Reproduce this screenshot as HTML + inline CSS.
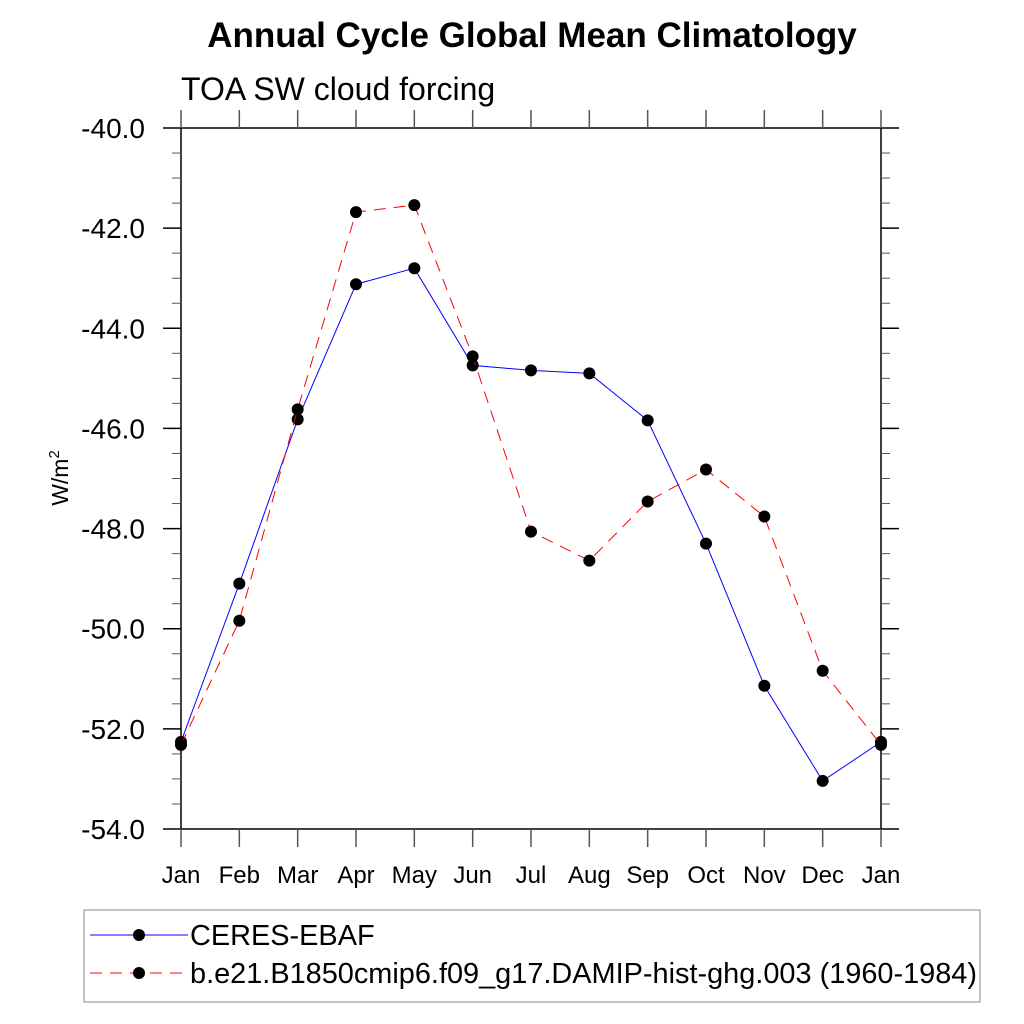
<!DOCTYPE html>
<html><head><meta charset="utf-8"><style>body{margin:0;background:#fff}svg{display:block;font-family:"Liberation Sans",sans-serif}</style></head>
<body>
<svg id="chart" width="1024" height="1024" viewBox="0 0 1024 1024">
<text x="532" y="47" font-size="35" font-weight="bold" text-anchor="middle">Annual Cycle Global Mean Climatology</text>
<text x="181" y="100" font-size="32">TOA SW cloud forcing</text>
<text transform="translate(68,478) rotate(-90)" font-size="23" text-anchor="middle">W/m<tspan font-size="15" dy="-9">2</tspan></text>
<g id="axes"></g>
<g id="series"></g>
<g>
<rect x="84" y="910" width="896" height="92" fill="none" stroke="#888" stroke-width="1"/>
<g>
<line x1="90" y1="935" x2="188" y2="935" stroke="#0000ff" stroke-width="1"/>
<circle cx="139" cy="935" r="6" fill="#000"/>
<text x="190" y="945" font-size="28.9">CERES-EBAF</text></g>
<g>
<line x1="90" y1="973" x2="188" y2="973" stroke="#ff0000" stroke-width="1" stroke-dasharray="12,8"/>
<circle cx="139" cy="973" r="6" fill="#000"/>
<text x="190" y="983" font-size="28.9">b.e21.B1850cmip6.f09_g17.DAMIP-hist-ghg.003 (1960-1984)</text></g>
</g>
</svg>
<script>
const months=["Jan","Feb","Mar","Apr","May","Jun","Jul","Aug","Sep","Oct","Nov","Dec","Jan"];
const ceres=[-52.26,-49.1,-45.82,-43.12,-42.8,-44.74,-44.84,-44.9,-45.84,-48.3,-51.14,-53.04,-52.26];
const model=[-52.32,-49.84,-45.62,-41.68,-41.54,-44.56,-48.06,-48.64,-47.46,-46.82,-47.76,-50.84,-52.32];
const yTicks=[-40,-42,-44,-46,-48,-50,-52,-54];
const NS="http://www.w3.org/2000/svg";
const L=181,R=881,T=128,B=829,ymin=-54,ymax=-40;
const xs=i=>L+(R-L)*i/(months.length-1);
const ys=v=>B-(v-ymin)/(ymax-ymin)*(B-T);
function mk(p,tag,a){const e=document.createElementNS(NS,tag);for(const k in a)e.setAttribute(k,a[k]);p.appendChild(e);return e;}
const ax=document.getElementById('axes');
const frame=mk(ax,'rect',{x:L,y:T,width:R-L,height:B-T,fill:'none',stroke:'#000','stroke-width':1.5});


for(let v=ymin;v<=ymax+1e-9;v+=0.5){
  const maj=Math.abs(v/2-Math.round(v/2))<1e-9;const len=maj?18:9;const y=ys(v);
  const t1=mk(ax,'line',{x1:L-len,y1:y,x2:L,y2:y,stroke:maj?'#000':'#555','stroke-width':maj?1.5:1});
  
  
  const t2=mk(ax,'line',{x1:R,y1:y,x2:R+len,y2:y,stroke:maj?'#000':'#555','stroke-width':maj?1.5:1});
  
  
}
yTicks.forEach(v=>{
  const t=mk(ax,'text',{x:L-36,y:ys(v)+10,'font-size':28,'text-anchor':'end'});t.textContent=v.toFixed(1);
  
  
});
months.forEach((m,i)=>{
  const x=xs(i);
  const a=mk(ax,'line',{x1:x,y1:T-18,x2:x,y2:T,stroke:'#555','stroke-width':1.5});
  
  
  const b=mk(ax,'line',{x1:x,y1:B,x2:x,y2:B+18,stroke:'#555','stroke-width':1.5});
  
  
  const t=mk(ax,'text',{x:x,y:883,'font-size':24,'text-anchor':'middle'});t.textContent=m;
  
  
});
const sg=document.getElementById('series');
function draw(data,color,dash,name){
  const pts=data.map((v,i)=>xs(i)+','+ys(v)).join(' ');
  const pl=mk(sg,'polyline',{points:pts,fill:'none',stroke:color,'stroke-width':1,'stroke-dasharray':dash});
  
  
  data.forEach((v,i)=>{const c=mk(sg,'circle',{cx:xs(i),cy:ys(v),r:6,fill:'#000'});
    
    });
}
draw(ceres,'#0000ff','none','ceres');
draw(model,'#ff0000','12,8','model');
</script>
</body></html>
